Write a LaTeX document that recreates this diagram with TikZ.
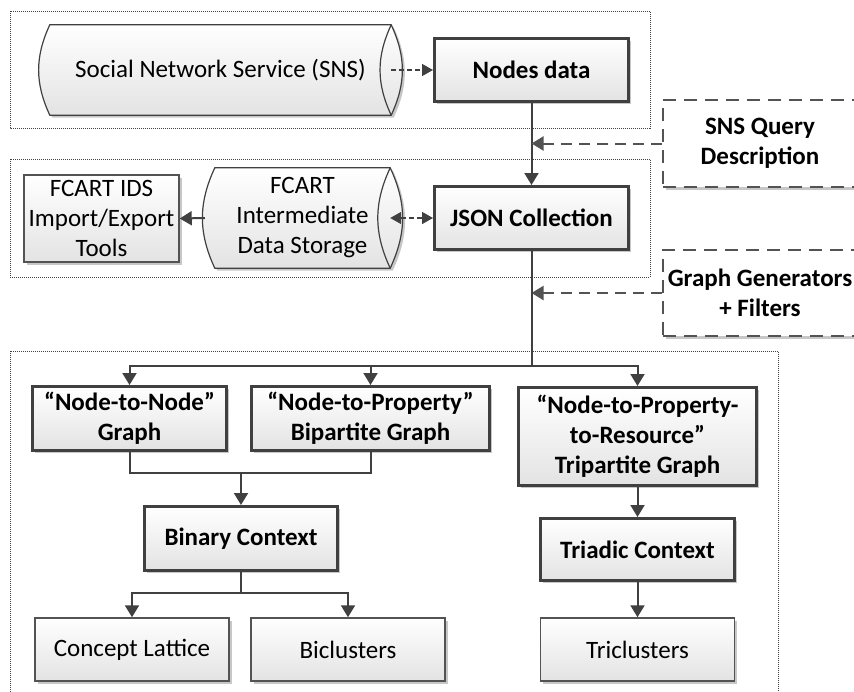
\documentclass[tikz,border=0pt]{standalone}
\usepackage{fontspec}
\setmainfont{Carlito}
\usepackage{tikz}
\usetikzlibrary{arrows.meta, positioning, calc, shadows, backgrounds}

\definecolor{linegray}{HTML}{404040}

\tikzset{
    txt/.style={font=\fontsize{25}{30}\selectfont, align=center, inner sep=2pt},
    shade/.style={top color=white, bottom color=black!11},
    shadowed/.style={drop shadow={shadow xshift=2.5pt, shadow yshift=-2.5pt, fill=black, opacity=0.22}},
    stepbox/.style={txt, shade, shadowed, draw=linegray, line width=3pt, font=\fontsize{25}{30}\selectfont\bfseries},
    result/.style={txt, shade, shadowed, draw=linegray!90, line width=1.5pt},
    store/.style={txt, inner sep=0pt},
    inputbox/.style={txt, fill=white, shadowed, draw=linegray!90, line width=2pt, dash pattern=on 13pt off 8pt, font=\fontsize{25}{30}\selectfont\bfseries},
    group/.style={draw=linegray, line width=1pt, densely dotted},
    wire/.style={draw=linegray, line width=2pt},
    flow/.style={wire, -{Triangle[length=12pt,width=14pt]}},
    link/.style={draw=linegray, line width=1.5pt, dash pattern=on 5pt off 3pt, -{Triangle[length=11pt,width=12pt]}},
    linkboth/.style={link, {Triangle[length=11pt,width=12pt]}-{Triangle[length=11pt,width=12pt]}},
    feed/.style={draw=linegray!90, line width=2pt, dash pattern=on 11pt off 7pt, -{Triangle[length=12pt,width=14pt]}},
}

\begin{document}
\begin{tikzpicture}[x=1pt, y=-1pt]
    \clip (0,0) rectangle (854,691);

    % Dotted groups
    \draw[group] (10,11) rectangle (650,128);
    \draw[group] (10,159) rectangle (650,277);
    \draw[group] (10,351) rectangle (778,720);

    % Sources
    \node[store, minimum width=341pt, minimum height=90pt] (sns) at (220.5,70) {Social Network Service (SNS)};
    \node[stepbox, minimum width=194pt, minimum height=63pt] (nodes) at (531.5,70) {Nodes data};
    \node[stepbox, minimum width=194pt, minimum height=63pt] (json) at (531.5,218) {JSON Collection};
    \node[store, minimum width=175pt, minimum height=100pt] (ids) at (302.5,218) {FCART\\Intermediate\\Data Storage};
    \node[result, minimum width=155pt, minimum height=87pt] (tools) at (101.5,218.5) {FCART IDS\\Import/Export\\Tools};

    % Inputs on the right
    \node[inputbox, minimum width=194pt, minimum height=87pt] (query) at (760,143.5) {SNS Query\\Description};
    \node[inputbox, minimum width=194pt, minimum height=86pt] (gen) at (760,293) {Graph Generators\\+ Filters};

    % Graphs
    \node[stepbox, minimum width=194pt, minimum height=64pt] (n2n) at (129.5,418.5) {“Node-to-Node”\\Graph};
    \node[stepbox, minimum width=238pt, minimum height=64pt] (n2p) at (370.5,418.5) {“Node-to-Property”\\Bipartite Graph};
    \node[stepbox, minimum width=238pt, minimum height=98pt] (n2r) at (637.5,436.5) {“Node-to-Property-\\to-Resource”\\Tripartite Graph};

    % Contexts
    \node[stepbox, minimum width=193pt, minimum height=64pt] (binctx) at (241,538.5) {Binary Context};
    \node[stepbox, minimum width=194pt, minimum height=62pt] (trictx) at (637.5,549.5) {Triadic Context};

    % Results
    \node[result, minimum width=194pt, minimum height=63pt] (lattice) at (132,649.5) {Concept Lattice};
    \node[result, minimum width=194pt, minimum height=63pt] (bicl) at (348,649.5) {Biclusters};
    \node[result, minimum width=194pt, minimum height=63pt] (tricl) at (637.5,649.5) {Triclusters};

    % Storage drums
    \begin{scope}[on background layer]
        \foreach \cyl in {sns, ids} {
            \path[shade, shadowed, draw=linegray, line width=1.2pt]
                (\cyl.north west) to[bend right=25] (\cyl.south west) -- (\cyl.south east)
                to[bend right=25] (\cyl.north east) -- cycle;
            \draw[linegray, line width=1.2pt] (\cyl.north east) to[bend right=25] (\cyl.south east);
        }
    \end{scope}

    % Top part
    \draw[link] (sns.east) -- (nodes.west);
    \draw[flow] (nodes) -- (json);
    \draw[feed] (query.west) -- (query.west -| nodes.south);
    \draw[flow] ([xshift=-10pt]ids.west) -- (tools.east);
    \draw[linkboth] (ids.east) -- (json.west);
    \draw[feed] (gen.west) -- (gen.west -| json.south);

    % Split into graphs
    \path (json.south) ++(0,115) coordinate (split);
    \draw[flow] (json.south) -- (split) -| (n2n.north);
    \draw[flow] (split) -| (n2p.north);
    \draw[flow] (split) -| (n2r.north);

    % Binary branch
    \path (n2n.south) ++(0,21) coordinate (merge);
    \draw[wire] (n2n.south) -- (merge) -| (n2p.south);
    \draw[flow] (merge -| binctx.north) -- (binctx.north);
    \path (binctx.south) ++(0,21) coordinate (fork);
    \draw[flow] (binctx.south) -- (fork) -| (lattice.north);
    \draw[flow] (fork) -| (bicl.north);

    % Triadic branch
    \draw[flow] (n2r) -- (trictx);
    \draw[flow] (trictx) -- (tricl);
\end{tikzpicture}
\end{document}
